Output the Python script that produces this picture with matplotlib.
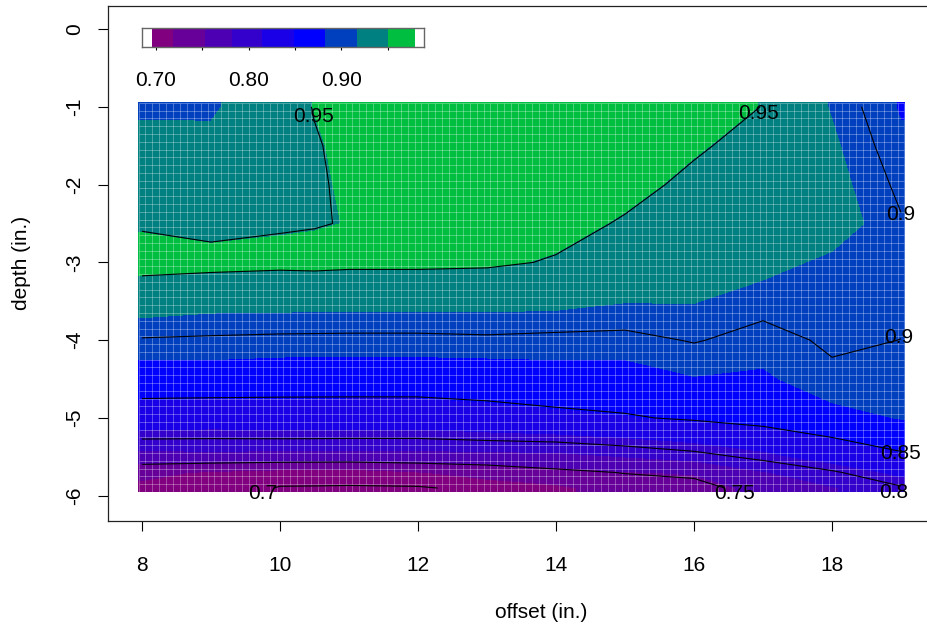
import numpy as np
import matplotlib
matplotlib.use("Agg")
import matplotlib.pyplot as plt

plt.rcParams['font.family'] = ['Liberation Sans', 'DejaVu Sans']
plt.rcParams['axes.unicode_minus'] = False

# ---- data ----
offset = [8, 9, 10, 10.5, 11, 12, 13, 14, 15, 16, 17, 18, 19]
depth = [-1.0, -1.5, -2.0, -2.5, -3.0, -3.5, -4.0, -4.5, -5.0, -5.5, -5.7, -5.9]

d_1_0 = [0.913, 0.913, 0.940, 0.951, 0.960, 0.965, 0.965, 0.962, 0.965, 0.962, 0.9495, 0.915, 0.880]
d_1_5 = [0.925, 0.924, 0.942, 0.9484, 0.955, 0.967, 0.966, 0.962, 0.962, 0.953, 0.942, 0.9213, 0.887]
d_2_0 = [0.936, 0.933, 0.944, 0.9482, 0.9525, 0.965, 0.965, 0.960, 0.957, 0.945, 0.937, 0.926, 0.895]
d_2_5 = [0.9475, 0.9423, 0.9479, 0.9489, 0.951, 0.962, 0.962, 0.958, 0.9478, 0.940, 0.932, 0.930, 0.902]
d_3_0 = [0.960, 0.9584, 0.9561, 0.957, 0.9555, 0.9555, 0.9541, 0.948, 0.933, 0.930, 0.925, 0.912, 0.907]
d_3_5 = [0.931, 0.926, 0.9256, 0.9253, 0.925, 0.925, 0.925, 0.924, 0.918, 0.918, 0.9075, 0.905, 0.905]
d_4_0 = [0.898, 0.8966, 0.8951, 0.8948, 0.8945, 0.8945, 0.896, 0.894, 0.8937, 0.9015, 0.8925, 0.9035, 0.8998]
d_4_5 = [0.867, 0.8684, 0.866, 0.866, 0.866, 0.866, 0.8665, 0.871, 0.8713, 0.881, 0.8786, 0.8955, 0.8917]
d_5_0 = [0.833, 0.830, 0.8315, 0.8313, 0.831, 0.831, 0.837, 0.842, 0.8471, 0.8538, 0.862, 0.874, 0.8836]
d_5_5 = [0.772, 0.7734, 0.7725, 0.7723, 0.772, 0.772, 0.773, 0.774, 0.7817, 0.791, 0.806, 0.826, 0.8445]
d_5_7 = [0.726, 0.715, 0.708, 0.7065, 0.705, 0.717, 0.729, 0.743, 0.7512, 0.755, 0.780, 0.7965, 0.8208]
d_5_9 = [0.712, 0.710, 0.699, 0.699, 0.699, 0.698, 0.705, 0.712, 0.735, 0.742, 0.760, 0.780, 0.797]

breaks = [0.6957, 0.7187, 0.7529, 0.7817, 0.8141, 0.849, 0.8825, 0.9171, 0.9505, 0.9797]
colors = ['#800080', '#660099', '#4D00B3', '#3300CC', '#1A00E6',
          '#0000FF', '#0040BF', '#008080', '#00BF40']
contour_levels = [0.7, 0.75, 0.8, 0.85, 0.9, 0.95]

label_text = ['0.95', '0.95', '0.9', '0.9', '0.85', '0.8', '0.75', '0.7']
label_x = [10.48, 16.93, 19.0, 18.97, 19.0, 18.9, 16.59, 9.75]
label_y = [-1.12, -1.09, -2.39, -3.965, -5.45, -5.955, -5.97, -5.97]

x_ticks = [8, 10, 12, 14, 16, 18]
y_ticks = [0, -1, -2, -3, -4, -5, -6]
legend_ticks = [0.70, 0.75, 0.80, 0.85, 0.90, 0.95]
legend_labels = ['0.70', '', '0.80', '', '0.90', '']

# ---- figure ----
W, H = 927, 633
fig = plt.figure(figsize=(W / 100, H / 100), dpi=100)
ax_l, ax_r, ax_t, ax_b = 107.9, 974.0, 5.5, 521.0
ax = fig.add_axes([ax_l / W, 1 - ax_b / H, (ax_r - ax_l) / W, (ax_b - ax_t) / H])

Z = np.array([d_1_0, d_1_5, d_2_0, d_2_5, d_3_0, d_3_5,
              d_4_0, d_4_5, d_5_0, d_5_5, d_5_7, d_5_9])
x = np.array(offset, dtype=float)
y = np.array(depth, dtype=float)

# filled image (edge-extended by half a cell like the original raster)
xp = np.concatenate([[x[0] - 0.05], x, [x[-1] + 0.05]])
yp = np.concatenate([[y[0] + 0.05], y, [y[-1] - 0.05]])
Zp = np.pad(Z, 1, mode='edge')
ax.contourf(xp, yp, Zp, levels=breaks, colors=colors, antialiased=False, zorder=1)

# faint raster cell lines
gx = x[0] - 0.05 + 0.1 * np.arange(112)
gy = y[0] + 0.05 - 0.1 * np.arange(51)
ax.vlines(gx, yp[-1], yp[0], colors='white', alpha=0.33, linewidth=0.65, zorder=2)
ax.hlines(gy, xp[0], xp[-1], colors='white', alpha=0.33, linewidth=0.65, zorder=2)

# contour lines
ax.contour(x, y, Z, levels=contour_levels, colors='black', linewidths=0.8, zorder=3)
for t, lx, ly in zip(label_text, label_x, label_y):
    ax.text(lx, ly, t, fontsize=15, ha='center', va='center', zorder=4)

ax.set_xlim(7.506, 8 + (ax_r - 142) / 69.0)
ax.set_ylim(-6.324, 0.302)
ax.set_xticks(x_ticks)
ax.set_xticklabels([str(v) for v in x_ticks])
ax.set_yticks(y_ticks)
ax.set_yticklabels([str(v) for v in y_ticks], rotation=90, va='center')
ax.tick_params(axis='both', direction='out', length=7.2, width=0.8, labelsize=15, colors='black')
ax.tick_params(axis='x', pad=18)
ax.tick_params(axis='y', pad=9.6)
for s in ax.spines.values():
    s.set_linewidth(0.9)
    s.set_color('#222222')

ax.set_xlabel('offset (in.)', fontsize=15)
ax.set_ylabel('depth (in.)', fontsize=15)
ax.xaxis.set_label_coords((541 - ax_l) / (ax_r - ax_l), -(612 - ax_b) / (ax_b - ax_t))
ax.xaxis.label.set_va('center')
ax.yaxis.set_label_coords(-(ax_l - 22) / (ax_r - ax_l), (ax_b - 263) / (ax_b - ax_t))
ax.yaxis.label.set_va('center')

# ---- colour legend strip ----
cl, cr, ct, cb = 141.7, 424.3, 28.3, 47.3
cax = fig.add_axes([cl / W, 1 - cb / H, (cr - cl) / W, (cb - ct) / H])
cax.bar(breaks[:-1], 1, width=np.diff(breaks), align='edge', color=colors, linewidth=0)
cax.set_xlim(0.6846, 0.9897)
cax.set_ylim(0, 1)
cax.set_yticks([])
cax.set_xticks(legend_ticks)
cax.set_xticklabels(legend_labels)
cax.tick_params(axis='x', direction='out', length=2.5, width=0.8, labelsize=15, pad=14.5)
for s in cax.spines.values():
    s.set_linewidth(1.0)
    s.set_color('#666666')

fig.savefig('out.png', dpi=100)
